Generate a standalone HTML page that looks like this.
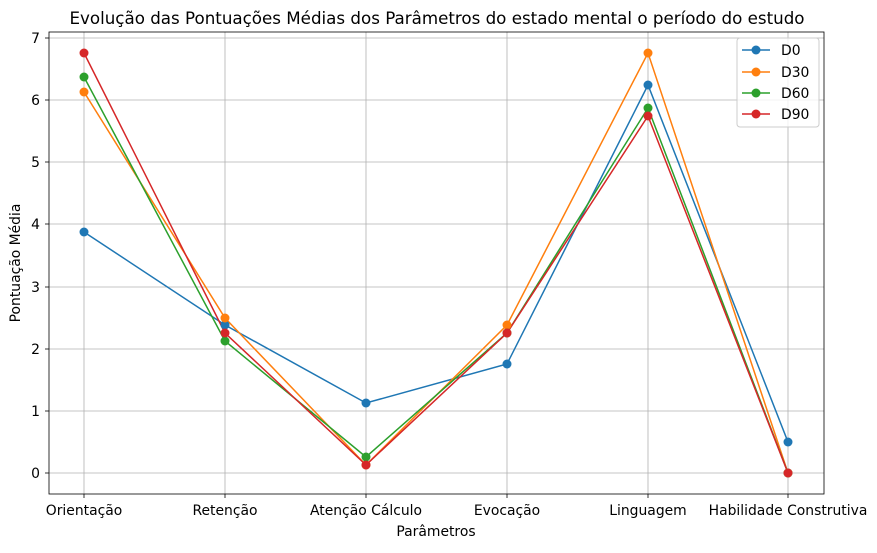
<!DOCTYPE html>
<html><head><meta charset="utf-8"><style>
html,body{margin:0;padding:0;background:#fff;}
svg text{font-family:"DejaVu Sans","Liberation Sans",sans-serif;fill:#000;}
</style></head><body>
<svg width="877" height="548" xmlns="http://www.w3.org/2000/svg">
<rect width="877" height="548" fill="#fff"/>
<text x="437" y="24" font-size="16.7" text-anchor="middle">Evolução das Pontuações Médias dos Parâmetros do estado mental o período do estudo</text>
<g stroke="#b0b0b0" stroke-width="0.8">
<line x1="84" y1="32" x2="84" y2="494"/><line x1="225" y1="32" x2="225" y2="494"/><line x1="366" y1="32" x2="366" y2="494"/><line x1="507" y1="32" x2="507" y2="494"/><line x1="648" y1="32" x2="648" y2="494"/><line x1="788" y1="32" x2="788" y2="494"/>
<line x1="49" y1="473" x2="824" y2="473"/><line x1="49" y1="411" x2="824" y2="411"/><line x1="49" y1="349" x2="824" y2="349"/><line x1="49" y1="287" x2="824" y2="287"/><line x1="49" y1="224" x2="824" y2="224"/><line x1="49" y1="162" x2="824" y2="162"/><line x1="49" y1="100" x2="824" y2="100"/><line x1="49" y1="38" x2="824" y2="38"/>
</g>
<rect x="49" y="32" width="775" height="462" fill="none" stroke="#000" stroke-width="0.8"/>
<g stroke="#000" stroke-width="0.8">
<line x1="84" y1="494" x2="84" y2="498"/><line x1="225" y1="494" x2="225" y2="498"/><line x1="366" y1="494" x2="366" y2="498"/><line x1="507" y1="494" x2="507" y2="498"/><line x1="648" y1="494" x2="648" y2="498"/><line x1="788" y1="494" x2="788" y2="498"/>
<line x1="45" y1="473" x2="49" y2="473"/><line x1="45" y1="411" x2="49" y2="411"/><line x1="45" y1="349" x2="49" y2="349"/><line x1="45" y1="287" x2="49" y2="287"/><line x1="45" y1="224" x2="49" y2="224"/><line x1="45" y1="162" x2="49" y2="162"/><line x1="45" y1="100" x2="49" y2="100"/><line x1="45" y1="38" x2="49" y2="38"/>
</g>
<g font-size="13.9" text-anchor="end">
<text x="40" y="478">0</text><text x="40" y="416">1</text><text x="40" y="354">2</text><text x="40" y="292">3</text><text x="40" y="229">4</text><text x="40" y="167">5</text><text x="40" y="105">6</text><text x="40" y="43">7</text>
</g>
<g font-size="13.9" text-anchor="middle">
<text x="84" y="515">Orientação</text><text x="225" y="515">Retenção</text><text x="366" y="515">Atenção Cálculo</text><text x="507" y="515">Evocação</text><text x="648" y="515">Linguagem</text><text x="788" y="515">Habilidade Construtiva</text>
<text x="436" y="536">Parâmetros</text>
</g>
<text transform="translate(20,263) rotate(-90)" font-size="13.9" text-anchor="middle">Pontuação Média</text>
<g fill="none" stroke-width="1.5">
<polyline stroke="#1f77b4" points="84,232 225,325 366,403 507,364 648,85 788,442"/>
<polyline stroke="#ff7f0e" points="84,92 225,318 366,465 507,325 648,53 788,473"/>
<polyline stroke="#2ca02c" points="84,77 225,341 366,457 507,333 648,108 788,473"/>
<polyline stroke="#d62728" points="84,53 225,333 366,465 507,333 648,116 788,473"/>
</g>
<g fill="#1f77b4"><circle cx="84" cy="232" r="4.5"/><circle cx="225" cy="325" r="4.5"/><circle cx="366" cy="403" r="4.5"/><circle cx="507" cy="364" r="4.5"/><circle cx="648" cy="85" r="4.5"/><circle cx="788" cy="442" r="4.5"/></g>
<g fill="#ff7f0e"><circle cx="84" cy="92" r="4.5"/><circle cx="225" cy="318" r="4.5"/><circle cx="366" cy="465" r="4.5"/><circle cx="507" cy="325" r="4.5"/><circle cx="648" cy="53" r="4.5"/><circle cx="788" cy="473" r="4.5"/></g>
<g fill="#2ca02c"><circle cx="84" cy="77" r="4.5"/><circle cx="225" cy="341" r="4.5"/><circle cx="366" cy="457" r="4.5"/><circle cx="507" cy="333" r="4.5"/><circle cx="648" cy="108" r="4.5"/><circle cx="788" cy="473" r="4.5"/></g>
<g fill="#d62728"><circle cx="84" cy="53" r="4.5"/><circle cx="225" cy="333" r="4.5"/><circle cx="366" cy="465" r="4.5"/><circle cx="507" cy="333" r="4.5"/><circle cx="648" cy="116" r="4.5"/><circle cx="788" cy="473" r="4.5"/></g>
<rect x="737" y="38" width="82" height="89" rx="3" fill="#fff" fill-opacity="0.8" stroke="#ccc"/>
<g stroke-width="1.5">
<line x1="742" y1="50" x2="770" y2="50" stroke="#1f77b4"/><circle cx="756" cy="50" r="4.5" fill="#1f77b4"/>
<line x1="742" y1="72" x2="770" y2="72" stroke="#ff7f0e"/><circle cx="756" cy="72" r="4.5" fill="#ff7f0e"/>
<line x1="742" y1="93" x2="770" y2="93" stroke="#2ca02c"/><circle cx="756" cy="93" r="4.5" fill="#2ca02c"/>
<line x1="742" y1="114" x2="770" y2="114" stroke="#d62728"/><circle cx="756" cy="114" r="4.5" fill="#d62728"/>
</g>
<g font-size="13.9"><text x="781" y="55">D0</text><text x="781" y="77">D30</text><text x="781" y="98">D60</text><text x="781" y="119">D90</text></g>
</svg>
</body></html>
